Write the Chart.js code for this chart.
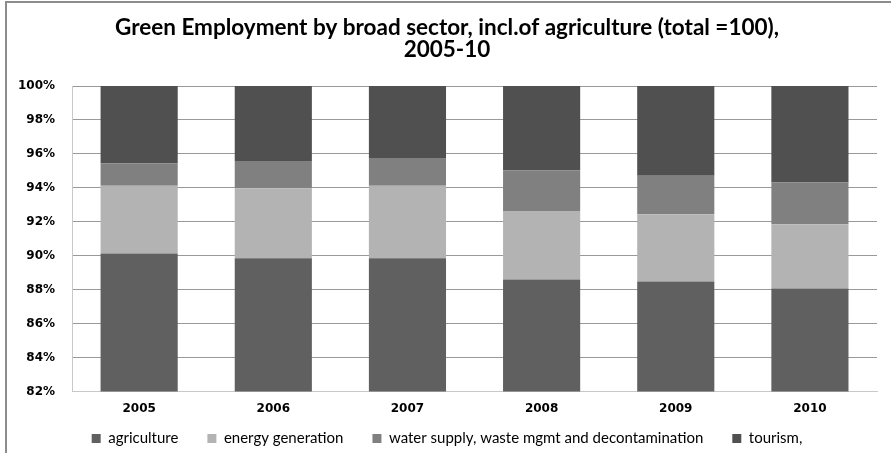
<!DOCTYPE html>
<html>
<head>
<meta charset="utf-8">
<script src="https://cdn.jsdelivr.net/npm/chart.js@4/dist/chart.umd.min.js"></script>
<style>
body { margin: 0; background: #fff; }
#wrap { position: relative; width: 891px; height: 453px; }
#frame { position: absolute; left: 5px; top: 1px; right: 0; bottom: 0; border-left: 2px solid #8c8c8c; border-top: 2px solid #8c8c8c; }
canvas { position: absolute; left: 0; top: 0; }
</style>
</head>
<body>
<div id="wrap">
<div id="frame"></div>
<canvas id="chart" width="891" height="453"></canvas>
</div>
<script>
// values, share of total in %
var years = ['2005', '2006', '2007', '2008', '2009', '2010'];
var agriculture = [90.14, 89.86, 89.86, 88.61, 88.49, 88.08];
var energy = [3.98, 4.12, 4.26, 4.03, 3.95, 3.77];
var water = [1.31, 1.60, 1.64, 2.39, 2.27, 2.47];
var tourism = [4.57, 4.42, 4.24, 4.97, 5.29, 5.68];
var yTicks = [82, 84, 86, 88, 90, 92, 94, 96, 98, 100];

var legendGap = 29;
var legendCut = 27;
var legendShift = 24;

// legend padding also sets the row height, so take some of it back
var tightLegend = {
	id: 'tightLegend',
	afterInit: function(chart) {
		var legend = chart.legend;
		var fit = legend.fit;
		var draw = legend._draw;
		legend.fit = function() {
			fit.call(this);
			this.height -= legendCut;
		};
		legend._draw = function() {
			this.ctx.save();
			this.ctx.translate(0, -legendShift);
			draw.call(this);
			this.ctx.restore();
		};
	}
};

var ctx = document.getElementById('chart');
var chart = new Chart(ctx, {
	type: 'bar',
	data: {
		labels: years,
		datasets: [
			{ label: 'agriculture', data: agriculture, backgroundColor: '#606060' },
			{ label: 'energy generation', data: energy, backgroundColor: '#b3b3b3' },
			{ label: 'water supply, waste mgmt and decontamination', data: water, backgroundColor: '#808080' },
			{ label: 'tourism,', data: tourism, backgroundColor: '#505050' }
		]
	},
	plugins: [tightLegend],
	options: {
		responsive: false,
		animation: false,
		layout: { padding: { left: 17, right: 14, top: 0, bottom: 0 } },
		datasets: { bar: { categoryPercentage: 1, barPercentage: 0.575 } },
		plugins: {
			title: {
				display: true,
				text: ['Green Employment by broad sector, incl.of agriculture (total =100),', '2005-10'],
				color: '#000',
				font: { family: 'Lato', size: 22.5, weight: 'bold', lineHeight: 1.0 },
				padding: { top: 16, bottom: 25 }
			},
			legend: {
				position: 'bottom',
				labels: {
					color: '#000',
					boxWidth: 9,
					boxHeight: 9,
					padding: legendGap,
					font: { family: 'Lato', size: 15 }
				}
			},
			tooltip: { enabled: false }
		},
		scales: {
			x: {
				stacked: true,
				grid: { display: false, drawTicks: false },
				border: { color: '#c8c8c8' },
				ticks: { color: '#000', font: { family: 'DejaVu Sans', size: 12, weight: 'bold' }, padding: 10 }
			},
			y: {
				stacked: true,
				min: 82,
				max: 100,
				afterBuildTicks: function(axis) {
					axis.ticks = yTicks.map(function(v) { return { value: v }; });
				},
				afterFit: function(scale) {
					scale.width -= 16;
				},
				grid: { color: '#999', drawTicks: false },
				border: { color: '#c8c8c8' },
				ticks: {
					color: '#000',
					padding: 17,
					font: { family: 'DejaVu Sans', size: 12, weight: 'bold' },
					callback: function(v) { return v + '%'; }
				}
			}
		}
	}
});
</script>
</body>
</html>
